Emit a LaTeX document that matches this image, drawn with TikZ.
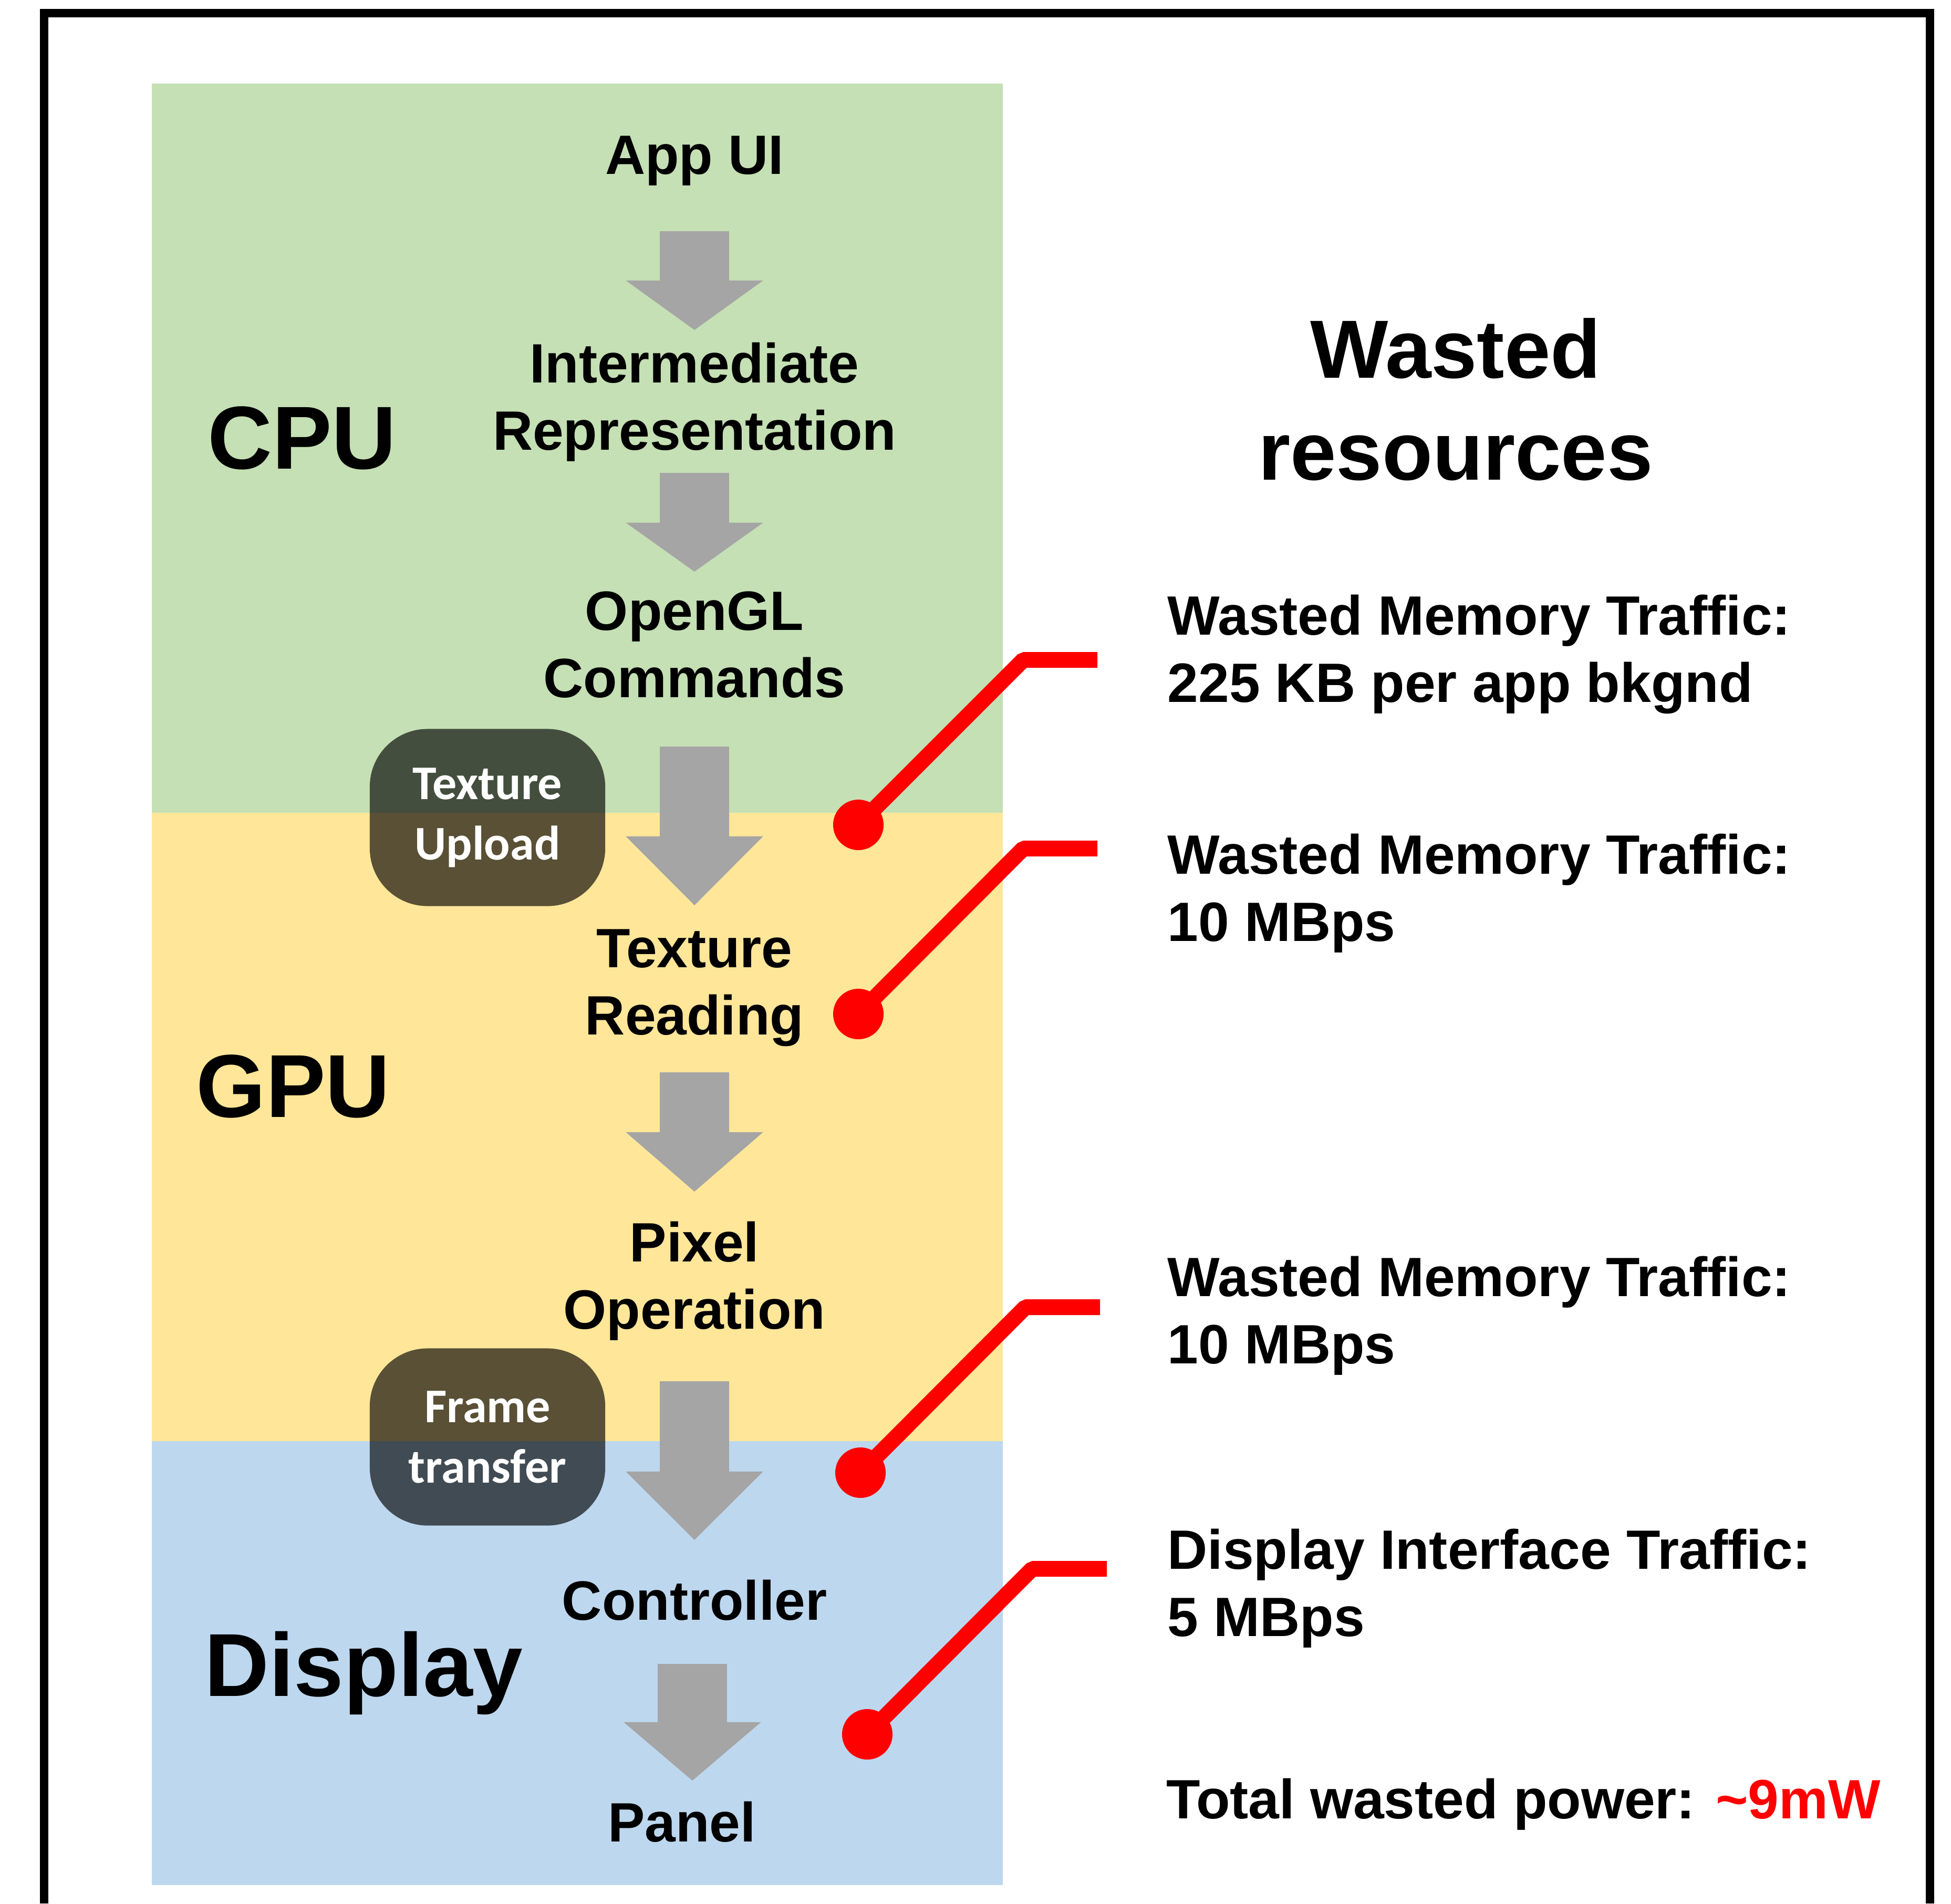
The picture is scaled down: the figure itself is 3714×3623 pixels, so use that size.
\documentclass[tikz,border=0pt]{standalone}
\usepackage{fontspec}
\setmainfont{Liberation Sans}
\newfontfamily\boxfont{Carlito}
\usetikzlibrary{arrows.meta}
\definecolor{cpugreen}{HTML}{C5E0B4}
\definecolor{gpuyellow}{HTML}{FFE699}
\definecolor{dispblue}{HTML}{BDD7EE}
\definecolor{flowgray}{HTML}{A5A5A5}
\tikzset{
  lbl/.style={font=\bfseries\fontsize{30}{36.4}\selectfont, align=center, inner sep=0pt},
  res/.style={font=\bfseries\fontsize{30}{36.4}\selectfont, align=left, anchor=west, inner sep=0pt},
  hwlabel/.style={font=\bfseries\fontsize{48.4}{58}\selectfont, inner sep=0pt},
  xfer/.style={fill=black, fill opacity=0.65, text opacity=1, text=white, rounded corners=1.1cm,
    minimum width=4.48cm, minimum height=3.37cm, align=center, inner sep=0pt,
    font=\boxfont\bfseries\fontsize{26.2}{32.7}\selectfont},
  hotspot/.style={circle, fill=red, minimum size=0.96cm, inner sep=0pt},
  leader/.style={red, line width=0.3cm, line join=bevel},
}
\begin{document}
\begin{tikzpicture}[x=0.01cm, y=-0.01cm]
\useasboundingbox (0, 0) rectangle (3714, 3623);
% frame, open at the bottom
\draw[line width=0.16cm] (84, 3623) -- (84, 25) -- (3674, 25) -- (3674, 3623);
% CPU / GPU / Display bands
\fill[cpugreen] (289, 159) rectangle (1909, 1547);
\fill[gpuyellow] (289, 1547) rectangle (1909, 2743);
\fill[dispblue] (289, 2743) rectangle (1909, 3588);
\draw (575, 834) node[hwlabel] (cpu) {CPU};
\draw (558, 2068) node[hwlabel] (gpu) {GPU};
\draw (692, 3184) node[hwlabel] (disp) {Display};
% pipeline stages
\draw (1322, 306) node[lbl] (appui) {App UI};
\draw (1322, 765) node[lbl] (inter) {Intermediate\\Representation};
\draw (1322, 1227) node[lbl] (opengl) {OpenGL\\Commands};
\draw (1322, 1880) node[lbl] (texread) {Texture\\Reading};
\draw (1322, 2438) node[lbl] (pixop) {Pixel\\Operation};
\draw (1322, 3046) node[lbl] (ctrl) {Controller};
\draw (1298, 3468) node[lbl] (panel) {Panel};
\foreach \cx/\ys/\yb/\ye [count=\i] in {1322/440/534/628, 1322/900/995/1088, 1322/1421/1592/1723,
    1322/2041/2155/2268, 1322/2629/2801/2931, 1318/3167/3278/3389}
{
  \pgfmathsetmacro\headlen{(\ye-\yb)/100}
  \coordinate (top\i) at (\cx, \ys);
  \coordinate (tip\i) at (\cx, \ye);
  \draw[flowgray, line width=1.31cm, -{Triangle[width=2.61cm, length=\headlen cm, line width=0pt]}] (top\i) -- (tip\i);
}
% transfers
\draw (928, 1556) node[xfer] (upload) {Texture\\Upload};
\draw (928, 2735) node[xfer] (frame) {Frame\\transfer};
% wasted resources
\draw (2771, 760) node[font=\bfseries\fontsize{44.7}{55.2}\selectfont, align=center, inner sep=0pt] (title) {Wasted\\resources};
\draw (2222, 1245) node[res] (waste1) {Wasted Memory Traffic:\\225 KB per app bkgnd};
\draw (2222, 1700) node[res] (waste2) {Wasted Memory Traffic:\\10 MBps};
\draw (2222, 2504) node[res] (waste3) {Wasted Memory Traffic:\\10 MBps};
\draw (2222, 3023) node[res] (waste4) {Display Interface Traffic:\\5 MBps};
\draw (2220, 3461) node[res, anchor=base west] (total) {Total wasted power: \textcolor{red}{\textasciitilde9mW}};
\foreach \dx/\dy/\bx/\hy/\ex [count=\i] in {1634/1570/1948/1256/2089, 1634/1930/1948/1615/2089,
    1638/2803/1952/2488/2094, 1651/3301/1965/2986/2107}
{
  \node[hotspot] (spot\i) at (\dx, \dy) {};
  \coordinate (bend\i) at (\bx, \hy);
  \coordinate (end\i) at (\ex, \hy);
  \draw[leader] (spot\i.center) -- (bend\i) -- (end\i);
}
\end{tikzpicture}
\end{document}
